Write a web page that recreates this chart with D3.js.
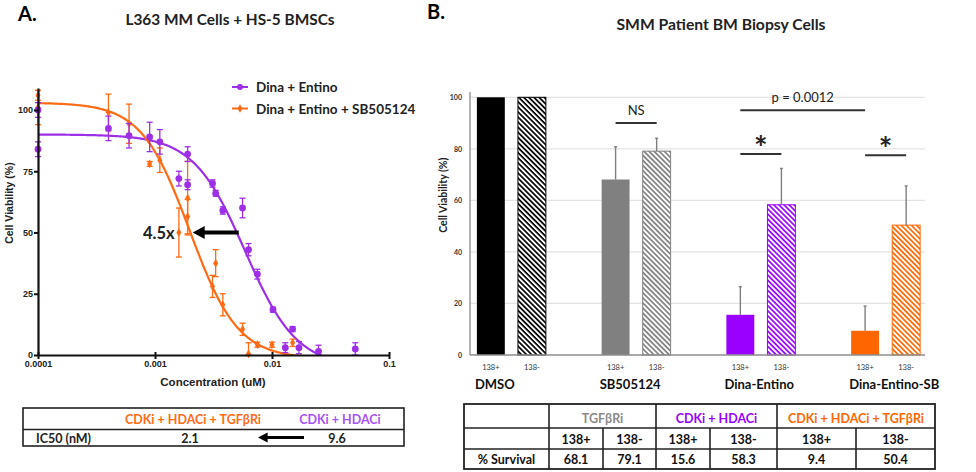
<!DOCTYPE html>
<html><head><meta charset="utf-8">
<script src="https://cdn.jsdelivr.net/npm/d3@7"></script>
<style>
html,body{margin:0;padding:0;background:#fff;}
svg{display:block;}
</style></head>
<body>
<svg id="chart" width="976" height="472"></svg>
<script>
// ---------- Panel A data ----------
const concPurple = [0.0001,0.0001,0.0004,0.0006,0.0009,0.0011,0.0016,0.0019,0.0019,0.0031,0.0033,0.0038,0.0056,0.0063,0.0075,0.0102,0.0150,0.0130,0.0170,0.0250,0.0515];
const viabPurple = [100,84,92.5,89.5,89,87,72,82,69.5,70,66,59,60,43,33,18.5,10.6,3,3,1.5,2.5];
const sdPurple   = [3,3,5,5,6,5,3,3,2,1.5,1.2,1.5,4,2.5,2,1,1,2,2.5,2.5,2.5];
const concOrange = [0.0001,0.0001,0.0004,0.0006,0.0009,0.0011,0.0016,0.0019,0.0019,0.0031,0.0033,0.0038,0.0056,0.0063,0.0075,0.0100,0.0150];
const viabOrange = [106,101,99,94.4,78,79.5,50,64,56.5,28,37.5,20.5,10.5,0.5,4.2,4.2,5];
const sdOrange   = [2,7,7.5,8,1,5,10,15,7,4.5,5.5,4.5,2.5,4.5,1,1,1.5];
// 4PL fit parameters: [top, bottom, EC50 (uM), hill]
const fitPurple = [90, -5, 0.00588, 1.96];
const fitOrange = [103, -1.5, 0.00198, 2.106];
const seriesNames = ["Dina + Entino", "Dina + Entino + SB505124"];
const xTicksA = [0.0001, 0.001, 0.01, 0.1];
const xTickLabelsA = ["0.0001", "0.001", "0.01", "0.1"];
const yTicksA = [0, 25, 50, 75, 100];
const shiftArrow = [0.0052, 0.0021]; // from -> to (uM) at 50 %
const shiftLabel = "4.5x";
const ic50Headers = ["CDKi + HDACi + TGFβRi", "CDKi + HDACi"];
const ic50Values = ["2.1", "9.6"];

// ---------- Panel B data ----------
const groups = ["DMSO", "SB505124", "Dina-Entino", "Dina-Entino-SB"];
const subgroups = ["138+", "138-"];
const survivalPos = [100, 68.1, 15.6, 9.4];
const survivalNeg = [100, 79.1, 58.3, 50.4];
const errPos = [0, 12.7, 10.9, 9.6];
const errNeg = [0, 5.0, 14.1, 15.2];
const yTicksB = [0, 20, 40, 60, 80, 100];
const tableHeadB = ["TGFβRi", "CDKi + HDACi", "CDKi + HDACi + TGFβRi"];
const tableValsB = ["68.1", "79.1", "15.6", "58.3", "9.4", "50.4"];

const PURPLE_A = "#9d2fe6", ORANGE_A = "#ff6a14";
const PURPLE_B = "#9900ff", ORANGE_B = "#ff6600";
const colorsB = ["#000000", "#808080", PURPLE_B, ORANGE_B];
const FONT = "Lato, 'Open Sans', sans-serif";
const AFONT = "'Liberation Sans', Arial, sans-serif";

const svg = d3.select("#chart");
const defs = svg.append("defs");

// ===================== PANEL A =====================
const xA = d3.scaleLog().domain([1e-4, 0.1]).range([38, 389]);
const yA = d3.scaleLinear().domain([0, 109]).range([355, 355 - 109 * 2.45]);

svg.append("text").attr("x", 18).attr("y", 21).attr("font-family", FONT).attr("font-weight", 700)
  .attr("font-size", 20).text("A.");
svg.append("text").attr("x", 230).attr("y", 25).attr("text-anchor", "middle").attr("font-family", FONT)
  .attr("font-weight", 700).attr("font-size", 15.4).attr("fill", "#222").text("L363 MM Cells + HS-5 BMSCs");

defs.append("clipPath").attr("id", "clipA").append("rect")
  .attr("x", 38).attr("y", 60).attr("width", 355).attr("height", yA(0) - 60);

function fourPL(p, c) { return p[1] + (p[0] - p[1]) / (1 + Math.pow(c / p[2], p[3])); }
const curveX = d3.range(0, 301).map(i => Math.pow(10, -4 + 3 * i / 300));
const lineA = d3.line().x(d => xA(d[0])).y(d => yA(d[1]));

[[fitPurple, PURPLE_A], [fitOrange, ORANGE_A]].forEach(([p, col]) => {
  svg.append("path").attr("clip-path", "url(#clipA)")
    .attr("d", lineA(curveX.map(c => [c, fourPL(p, c)])))
    .attr("fill", "none").attr("stroke", col).attr("stroke-width", 2.2);
});

function drawPoints(conc, viab, sd, col, shape) {
  const g = svg.append("g");
  conc.forEach((c, i) => {
    const x = xA(c), y = yA(viab[i]);
    const y1 = yA(viab[i] + sd[i]), y2 = yA(Math.max(viab[i] - sd[i], 0));
    g.append("line").attr("x1", x).attr("x2", x).attr("y1", y1).attr("y2", y2)
      .attr("stroke", col).attr("stroke-width", 1.3);
    [y1, y2].forEach(yy => g.append("line").attr("x1", x - 3).attr("x2", x + 3).attr("y1", yy).attr("y2", yy)
      .attr("stroke", col).attr("stroke-width", 1.3));
    if (shape === "circle") g.append("circle").attr("cx", x).attr("cy", y).attr("r", 3.4).attr("fill", col);
    else g.append("path").attr("d", d3.symbol(d3.symbolDiamond, 22)()).attr("transform", `translate(${x},${y})`).attr("fill", col);
  });
}
drawPoints(concOrange, viabOrange, sdOrange, ORANGE_A, "diamond");
drawPoints(concPurple, viabPurple, sdPurple, PURPLE_A, "circle");

// axes
const axLeftA = svg.append("g").attr("transform", `translate(${xA.range()[0]},0)`)
  .call(d3.axisLeft(yA).tickValues(yTicksA).tickSize(4).tickSizeOuter(0).tickPadding(1));
const axBotA = svg.append("g").attr("transform", `translate(0,${yA(0)})`)
  .call(d3.axisBottom(xA).tickValues(xTicksA).tickFormat((d, i) => xTickLabelsA[i]).tickSize(4).tickSizeOuter(0).tickPadding(2));
[axLeftA, axBotA].forEach(a => {
  a.select(".domain").attr("stroke", "#111").attr("stroke-width", 2.2);
  a.selectAll(".tick line").attr("stroke", "#111").attr("stroke-width", 2);
  a.selectAll("text").attr("font-family", AFONT).attr("font-weight", 700).attr("font-size", 9).attr("fill", "#222");
});
axBotA.selectAll(".tick line").attr("y1", -3);

svg.append("text").attr("x", 213).attr("y", 386).attr("text-anchor", "middle").attr("font-family", AFONT)
  .attr("font-weight", 700).attr("font-size", 11.5).attr("fill", "#222").text("Concentration (uM)");
svg.append("text").attr("transform", `translate(13,${yA(62)}) rotate(-90)`).attr("text-anchor", "middle")
  .attr("font-family", AFONT).attr("font-weight", 700).attr("font-size", 10.5).attr("fill", "#222").text("Cell Viability (%)");

// legend
[[PURPLE_A, "circle"], [ORANGE_A, "diamond"]].forEach(([col, shape], i) => {
  const y = 87 + i * 21.5;
  svg.append("line").attr("x1", 232).attr("x2", 248).attr("y1", y).attr("y2", y).attr("stroke", col).attr("stroke-width", 2);
  if (shape === "circle") svg.append("circle").attr("cx", 240).attr("cy", y).attr("r", 3).attr("fill", col);
  else svg.append("path").attr("d", d3.symbol(d3.symbolDiamond, 20)()).attr("transform", `translate(240,${y})`).attr("fill", col);
  svg.append("text").attr("x", 256).attr("y", y + 5).attr("font-family", FONT).attr("font-weight", 700)
    .attr("font-size", 13.5).attr("fill", "#222").text(seriesNames[i]);
});

// shift arrow
function arrow(x1, x2, y, w) {
  svg.append("line").attr("x1", x1).attr("x2", x2 + w * 2.5).attr("y1", y).attr("y2", y)
    .attr("stroke", "#000").attr("stroke-width", w);
  svg.append("path").attr("d", `M${x2},${y} L${x2 + w * 3},${y - w * 1.6} L${x2 + w * 3},${y + w * 1.6} Z`).attr("fill", "#000");
}
arrow(xA(shiftArrow[0]), xA(shiftArrow[1]), yA(50), 4);
svg.append("text").attr("x", xA(shiftArrow[1]) - 18).attr("y", yA(50) + 6).attr("text-anchor", "end")
  .attr("font-family", FONT).attr("font-weight", 700).attr("font-size", 16.5).attr("fill", "#222").text(shiftLabel);

// IC50 table
const tA = svg.append("g");
tA.append("rect").attr("x", 23).attr("y", 408).attr("width", 381).attr("height", 38)
  .attr("fill", "none").attr("stroke", "#222").attr("stroke-width", 1.6);
tA.append("line").attr("x1", 23).attr("x2", 404).attr("y1", 429.5).attr("y2", 429.5).attr("stroke", "#222").attr("stroke-width", 1.6);
const ic50Cx = [193, 340];
[ORANGE_A, "#a653f5"].forEach((col, i) => {
  tA.append("text").attr("x", ic50Cx[i]).attr("y", 424).attr("text-anchor", "middle").attr("font-family", FONT)
    .attr("font-weight", 700).attr("font-size", 12.5).attr("fill", col).text(ic50Headers[i]);
  tA.append("text").attr("x", ic50Cx[i] - 3).attr("y", 443).attr("text-anchor", "middle").attr("font-family", FONT)
    .attr("font-weight", 700).attr("font-size", 12.5).attr("fill", "#222").text(ic50Values[i]);
});
tA.append("text").attr("x", 36).attr("y", 443).attr("font-family", FONT).attr("font-weight", 700)
  .attr("font-size", 12.5).attr("fill", "#222").text("IC50 (nM)");
arrow(304, 258, 437.5, 3.2);

// ===================== PANEL B =====================
svg.append("text").attr("x", 427).attr("y", 19).attr("font-family", FONT).attr("font-weight", 700)
  .attr("font-size", 20).text("B.");
svg.append("text").attr("x", 721).attr("y", 30).attr("text-anchor", "middle").attr("font-family", FONT)
  .attr("font-weight", 700).attr("font-size", 15.7).attr("fill", "#222").text("SMM Patient BM Biopsy Cells");

const yB = d3.scaleLinear().domain([0, 100]).range([355, 97.3]);
const x0 = d3.scaleBand().domain(groups).range([449, 948]);
const x1 = d3.scaleBand().domain(subgroups)
  .range([x0.bandwidth() / 2 - 34.5, x0.bandwidth() / 2 + 34.5]).paddingInner(0.32);
const xLeftB = 470, xRightB = 925;

// gridlines
svg.append("g").selectAll("line").data(yTicksB.slice(1)).join("line")
  .attr("x1", xLeftB).attr("x2", xRightB).attr("y1", d => yB(d)).attr("y2", d => yB(d))
  .attr("stroke", "#e3e3e3").attr("stroke-width", 1.2);

// hatch patterns
colorsB.forEach((col, i) => {
  const p = defs.append("pattern").attr("id", "hatch" + i).attr("patternUnits", "userSpaceOnUse")
    .attr("width", 3.6).attr("height", 3.6).attr("patternTransform", "rotate(45)");
  p.append("rect").attr("width", 3.6).attr("height", 3.6).attr("fill", "#fff");
  p.append("rect").attr("width", 3.6).attr("height", 1.7).attr("fill", col);
});

const barData = [];
groups.forEach((g, i) => {
  barData.push({ g, s: subgroups[0], v: survivalPos[i], e: errPos[i], ci: i, hatch: false });
  barData.push({ g, s: subgroups[1], v: survivalNeg[i], e: errNeg[i], ci: i, hatch: true });
});
const bx = d => x0(d.g) + x1(d.s);
svg.append("g").selectAll("rect").data(barData).join("rect")
  .attr("x", d => bx(d)).attr("width", x1.bandwidth())
  .attr("y", d => yB(d.v)).attr("height", d => yB(0) - yB(d.v))
  .attr("fill", d => d.hatch ? `url(#hatch${d.ci})` : colorsB[d.ci])
  .attr("stroke", d => colorsB[d.ci]).attr("stroke-width", d => d.hatch ? 1 : 0);

// error bars
const eb = svg.append("g");
barData.filter(d => d.e > 0).forEach(d => {
  const cx = bx(d) + x1.bandwidth() / 2;
  eb.append("line").attr("x1", cx).attr("x2", cx).attr("y1", yB(d.v)).attr("y2", yB(d.v + d.e))
    .attr("stroke", "#7f7f7f").attr("stroke-width", 1.4);
  eb.append("line").attr("x1", cx - 1.5).attr("x2", cx + 1.5).attr("y1", yB(d.v + d.e)).attr("y2", yB(d.v + d.e))
    .attr("stroke", "#7f7f7f").attr("stroke-width", 1.4);
});

// axes B
svg.append("line").attr("x1", xLeftB).attr("x2", xLeftB).attr("y1", 92).attr("y2", yB(0))
  .attr("stroke", "#8c8c8c").attr("stroke-width", 1.3);
svg.append("line").attr("x1", xLeftB).attr("x2", xRightB).attr("y1", yB(0)).attr("y2", yB(0))
  .attr("stroke", "#8c8c8c").attr("stroke-width", 1.6);
const axB = svg.append("g").attr("transform", `translate(${xLeftB},0)`)
  .call(d3.axisLeft(yB).tickValues(yTicksB).tickSize(0).tickPadding(8));
axB.select(".domain").remove();
axB.selectAll("text").attr("font-family", FONT).attr("font-weight", 700).attr("font-size", 7).attr("fill", "#333");
svg.append("text").attr("transform", `translate(447,${yB(62)}) rotate(-90)`).attr("text-anchor", "middle")
  .attr("font-family", FONT).attr("font-weight", 700).attr("font-size", 10.5).attr("fill", "#222").text("Cell Viability (%)");

// sub labels + group labels
svg.append("g").selectAll("text").data(barData).join("text")
  .attr("x", d => bx(d) + x1.bandwidth() / 2).attr("y", 370).attr("text-anchor", "middle")
  .attr("font-family", FONT).attr("font-size", 7.5).attr("fill", "#333").text(d => d.s);
svg.append("g").selectAll("text").data(groups).join("text")
  .attr("x", d => x0(d) + x1(subgroups[0]) - 2).attr("y", 389)
  .attr("font-family", FONT).attr("font-weight", 700).attr("font-size", 13).attr("fill", "#111").text(d => d);

// significance annotations
const cxOf = (gi, si) => x0(groups[gi]) + x1(subgroups[si]) + x1.bandwidth() / 2;
function bracket(xa, xb, v, label, big) {
  svg.append("line").attr("x1", xa).attr("x2", xb).attr("y1", yB(v)).attr("y2", yB(v))
    .attr("stroke", "#333").attr("stroke-width", 2);
  svg.append("text").attr("x", (xa + xb) / 2).attr("y", big ? yB(v) + 6 : yB(v) - 8)
    .attr("text-anchor", "middle").attr("font-family", FONT)
    .attr("font-weight", big ? 700 : 400).attr("font-size", big ? 32 : 13).attr("fill", "#222").text(label);
}
bracket(cxOf(1, 0), cxOf(1, 1), 90, "NS", false);
bracket(cxOf(2, 0), cxOf(3, 0), 95, "p = 0.0012", false);
bracket(cxOf(2, 0), cxOf(2, 1), 78, "*", true);
bracket(cxOf(3, 0), cxOf(3, 1), 77.5, "*", true);

// survival table
const tB = svg.append("g");
const tL = 464, tR = 935, tT = 404, tBt = 469, r1 = 428, r2 = 449;
const cols = [549, 603, 656, 710, 777, 856];
const stroke = (x1_, y1_, x2_, y2_) => tB.append("line").attr("x1", x1_).attr("y1", y1_).attr("x2", x2_).attr("y2", y2_)
  .attr("stroke", "#222").attr("stroke-width", 1.6);
tB.append("rect").attr("x", tL).attr("y", tT).attr("width", tR - tL).attr("height", tBt - tT)
  .attr("fill", "none").attr("stroke", "#222").attr("stroke-width", 1.8);
stroke(tL, r1, tR, r1); stroke(tL, r2, tR, r2);
[cols[0], cols[2], cols[4]].forEach(x => stroke(x, tT, x, tBt));
[cols[1], cols[3], cols[5]].forEach(x => stroke(x, r1, x, tBt));
const headCx = [(cols[0] + cols[2]) / 2, (cols[2] + cols[4]) / 2, (cols[4] + tR) / 2];
const headCol = ["#8a8a8a", PURPLE_B, ORANGE_B];
tableHeadB.forEach((h, i) => tB.append("text").attr("x", headCx[i]).attr("y", 423).attr("text-anchor", "middle")
  .attr("font-family", FONT).attr("font-weight", 700).attr("font-size", 12.5).attr("fill", headCol[i]).text(h));
const edges = [...cols, tR];
tableValsB.forEach((v, i) => {
  const cx = (edges[i] + edges[i + 1]) / 2;
  tB.append("text").attr("x", cx).attr("y", 443.5).attr("text-anchor", "middle").attr("font-family", FONT)
    .attr("font-weight", 700).attr("font-size", 12.5).attr("fill", "#111").text(subgroups[i % 2]);
  tB.append("text").attr("x", cx).attr("y", 464).attr("text-anchor", "middle").attr("font-family", FONT)
    .attr("font-weight", 700).attr("font-size", 12.5).attr("fill", "#111").text(v);
});
tB.append("text").attr("x", (tL + cols[0]) / 2).attr("y", 464).attr("text-anchor", "middle").attr("font-family", FONT)
  .attr("font-weight", 700).attr("font-size", 12.5).attr("fill", "#111").text("% Survival");
</script>
</body></html>
